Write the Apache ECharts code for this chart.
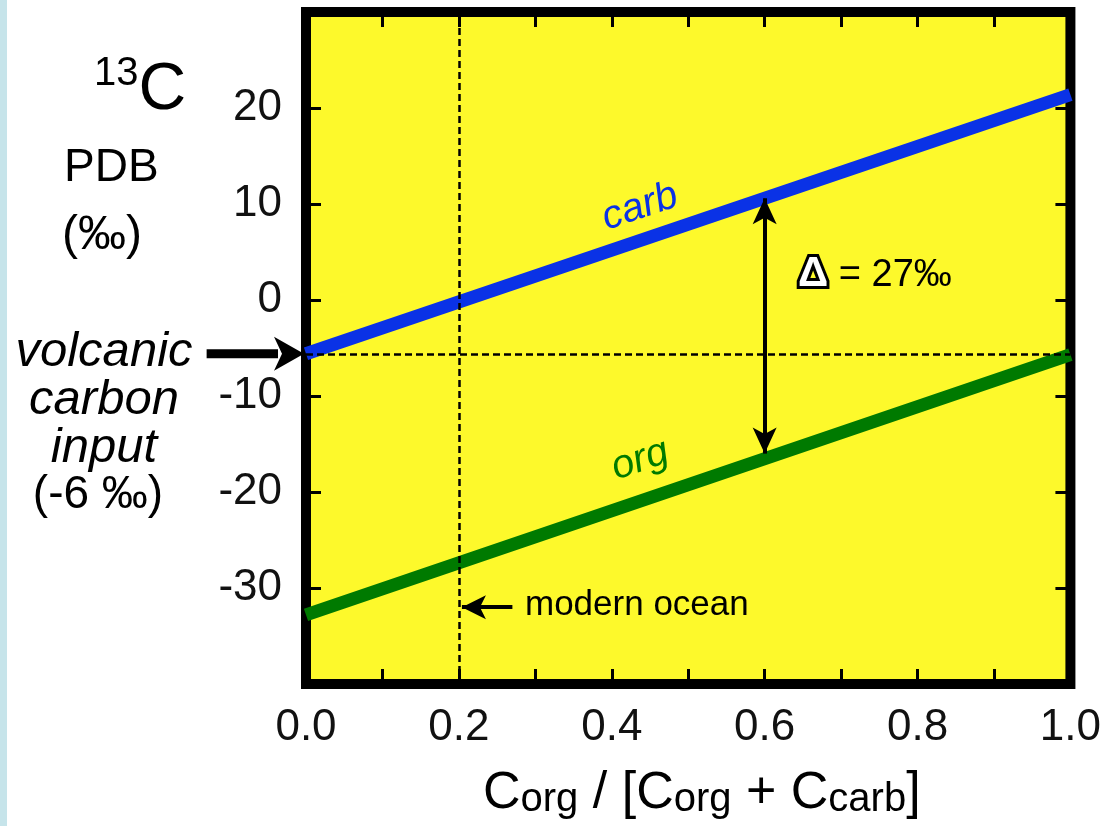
<!DOCTYPE html>
<html>
<head>
<meta charset="utf-8">
<script src="https://cdn.jsdelivr.net/npm/echarts@6/dist/echarts.min.js"></script>
<style>
html,body{margin:0;padding:0;background:#fff;}
#chart{width:1104px;height:826px;}
</style>
</head>
<body>
<div id="chart"></div>
<script>
// ---- data ----
const fraction = [0, 1];                 // Corg / [Corg + Ccarb]
const carbValues = [-5.6, 21.4];         // δ13C carbonate
const orgValues = [-32.8, -5.7];         // δ13C organic
const volcanicInput = -5.6;              // volcanic carbon input
const modernOcean = 0.2;                 // modern ocean fraction
const deltaX = 0.6;                      // position of Δ arrow
const deltaTop = 10.6;
const deltaBottom = -16.0;
const volcanicArrowStart = -0.13;
const yTickLabels = [-30, -20, -10, 0, 10, 20];
const xTickLabels = [0, 0.2, 0.4, 0.6, 0.8, 1.0];

const FONT = 'Liberation Sans, Arial, Helvetica, sans-serif';
const chart = echarts.init(document.getElementById('chart'), null, {renderer: 'canvas'});

const gridL = 306, gridR = 32, gridT = 12, gridB = 142;
const tick = {show: true, inside: true, length: 15, lineStyle: {color: '#000', width: 3}};

const option = {
  backgroundColor: '#ffffff',
  animation: false,
  grid: {
    left: gridL, right: gridR, top: gridT, bottom: gridB,
    show: true, backgroundColor: '#fdf92b', borderColor: '#000', borderWidth: 10
  },
  xAxis: [{
    type: 'value', min: 0, max: 1, interval: 0.1, position: 'bottom',
    axisLine: {show: false, onZero: false},
    axisTick: tick,
    splitLine: {show: false},
    axisLabel: {
      margin: 22, color: '#111', fontSize: 44, fontFamily: FONT,
      formatter: v => {
        const r = Math.round(v * 10) / 10;
        return xTickLabels.some(t => Math.abs(t - r) < 1e-6) ? r.toFixed(1) : '';
      }
    }
  }, {
    type: 'value', min: 0, max: 1, interval: 0.1, position: 'top',
    axisLine: {show: false, onZero: false},
    axisTick: tick,
    splitLine: {show: false}, axisLabel: {show: false}
  }],
  yAxis: [{
    type: 'value', min: -40, max: 30, interval: 10, position: 'left',
    axisLine: {show: false, onZero: false},
    axisTick: tick,
    splitLine: {show: false},
    axisLabel: {
      margin: 24, color: '#111', fontSize: 44, fontFamily: FONT,
      formatter: v => yTickLabels.indexOf(Math.round(v)) >= 0 ? String(Math.round(v)) : ''
    }
  }, {
    type: 'value', min: -40, max: 30, interval: 10, position: 'right',
    axisLine: {show: false, onZero: false},
    axisTick: tick,
    splitLine: {show: false}, axisLabel: {show: false}
  }],
  series: [
    {
      name: 'helpers', type: 'line', data: [], silent: true,
      markLine: {
        silent: true, animation: false, symbol: ['none', 'none'],
        label: {show: false},
        data: [
          [{coord: [modernOcean, -40], lineStyle: {color: '#000', width: 2.5, type: [7, 4]}},
           {coord: [modernOcean, 30]}],
          [{coord: [0, volcanicInput], lineStyle: {color: '#000', width: 2.5, type: [7, 4]}},
           {coord: [1, volcanicInput]}],
          [{coord: [deltaX, deltaTop], symbol: 'arrow', symbolSize: [18, 26],
            lineStyle: {color: '#000', width: 4, type: 'solid'}},
           {coord: [deltaX, deltaBottom], symbol: 'arrow', symbolSize: [18, 26]}],
          [{coord: [0.27, -32], symbol: 'none',
            lineStyle: {color: '#000', width: 4, type: 'solid'}},
           {coord: [modernOcean + 0.004, -32], symbol: 'arrow', symbolSize: [18, 24]}]
        ]
      }
    },
    {
      name: 'carb', type: 'line', symbol: 'none', z: 3,
      data: fraction.map((f, i) => [f, carbValues[i]]),
      lineStyle: {color: '#0a32e6', width: 13, cap: 'butt'}
    },
    {
      name: 'org', type: 'line', symbol: 'none', z: 3,
      data: fraction.map((f, i) => [f, orgValues[i]]),
      lineStyle: {color: '#007a00', width: 13, cap: 'butt'}
    }
  ],
  graphic: [
    {type: 'rect', left: 0, top: 0, shape: {width: 7, height: 826}, style: {fill: '#c6e4ea'}},
    {type: 'text', left: 94, top: 54, style: {
      text: '{s|13}{c|C}', fontFamily: FONT,
      rich: {
        s: {fontSize: 40, fontFamily: FONT, fill: '#000', verticalAlign: 'top', lineHeight: 64},
        c: {fontSize: 66, fontFamily: FONT, fill: '#000', verticalAlign: 'bottom', lineHeight: 70}
      }
    }},
    {type: 'text', left: 64, top: 145, style: {text: 'PDB', font: '46px ' + FONT, fill: '#000'}},
    {type: 'text', left: 62, top: 212, style: {text: '(‰)', font: '48px ' + FONT, fill: '#000'}},
    {type: 'text', x: 104, y: 328, style: {
      text: 'volcanic\ncarbon\ninput', font: 'italic 49px ' + FONT, fill: '#000',
      align: 'center', lineHeight: 48
    }},
    {type: 'text', x: 98, y: 472, style: {
      text: '(-6 ‰)', font: '46px ' + FONT, fill: '#000', align: 'center'
    }},
    {type: 'text', left: 525, top: 588, style: {text: 'modern ocean', font: '35px ' + FONT, fill: '#000'}},
    {type: 'text', left: 795, top: 250, style: {
      text: '{d|Δ}{t| = 27‰}',
      rich: {
        d: {fontSize: 42, fontWeight: 'bold', fontFamily: FONT, fill: '#fff', stroke: '#000', lineWidth: 6, verticalAlign: 'bottom'},
        t: {fontSize: 38, fontFamily: FONT, fill: '#000', verticalAlign: 'bottom'}
      }
    }},
    {type: 'text', x: 640, y: 207, rotation: 18.7 * Math.PI / 180, style: {
      text: 'carb', font: 'italic 40px ' + FONT, fill: '#0a32e6', align: 'center', verticalAlign: 'middle'
    }},
    {type: 'text', x: 640, y: 460, rotation: 18.7 * Math.PI / 180, style: {
      text: 'org', font: 'italic 40px ' + FONT, fill: '#007a00', align: 'center', verticalAlign: 'middle'
    }},
    {type: 'text', left: 483, top: 768, style: {
      text: '{c|C}{s|org}{c| / [C}{s|org}{c| + C}{s|carb}{c|]}',
      rich: {
        c: {fontSize: 52, fontFamily: FONT, fill: '#000', verticalAlign: 'bottom', lineHeight: 56},
        s: {fontSize: 40, fontFamily: FONT, fill: '#000', verticalAlign: 'bottom', lineHeight: 44}
      }
    }}
  ]
};
chart.setOption(option);

// volcanic input arrow: placed through the chart's own scales
const pStart = chart.convertToPixel({gridIndex: 0}, [volcanicArrowStart, volcanicInput]);
const pEnd = chart.convertToPixel({gridIndex: 0}, [0, volcanicInput]);
const headLen = 32, headHalf = 17;
chart.setOption({
  graphic: option.graphic.concat([
    {type: 'line', z: 100, shape: {x1: pStart[0], y1: pStart[1], x2: pEnd[0] - headLen + 4, y2: pEnd[1]},
     style: {stroke: '#000', lineWidth: 9}},
    {type: 'polygon', z: 100, shape: {points: [
      [pEnd[0] - 2, pEnd[1]],
      [pEnd[0] - headLen, pEnd[1] - headHalf],
      [pEnd[0] - headLen + 8, pEnd[1]],
      [pEnd[0] - headLen, pEnd[1] + headHalf]
    ]}, style: {fill: '#000'}}
  ])
});
</script>
</body>
</html>
